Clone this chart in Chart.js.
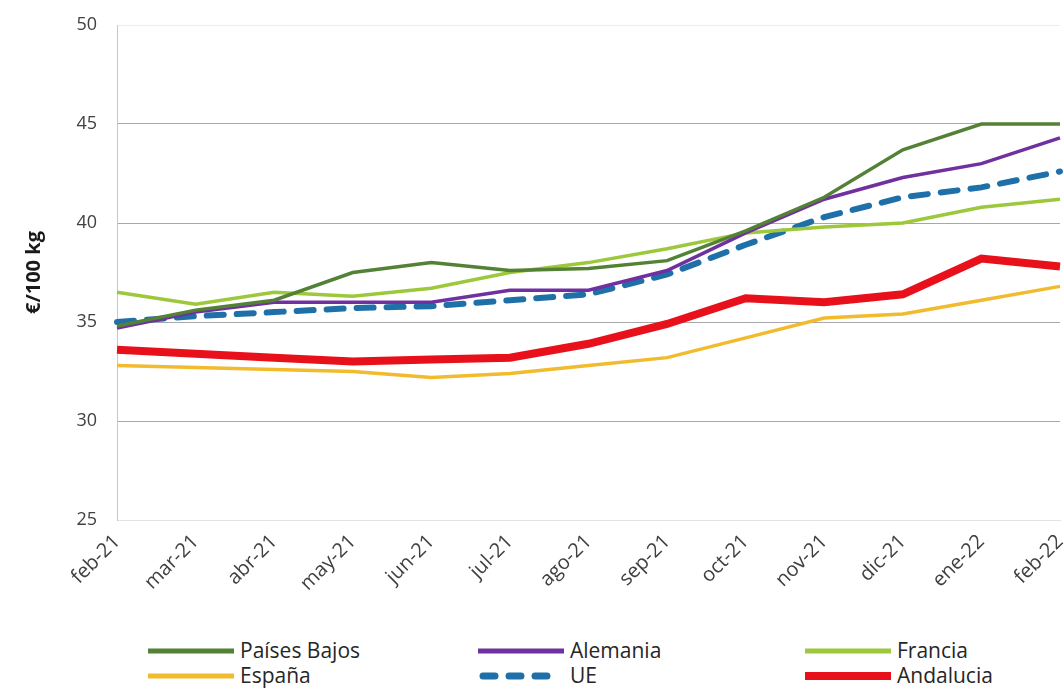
<!DOCTYPE html>
<html>
<head>
<meta charset="utf-8">
<script src="https://cdn.jsdelivr.net/npm/chart.js@4"></script>
<style>
  body { margin: 0; background: #fff; font-family: 'Open Sans', sans-serif; }
  #wrap { position: relative; width: 1064px; height: 692px; }
  #chart { position: absolute; left: 0; top: 0; }
  #legend { position: absolute; left: 0; top: 638px; width: 1064px; }
  .item { position: absolute; display: flex; align-items: center; font-size: 21px; color: #262626; line-height: 25px; }
  .item svg { margin-right: 6px; }
</style>
</head>
<body>
<div id="wrap">
  <canvas id="chart" width="1064" height="635"></canvas>
  <div id="legend"></div>
</div>
<script>
const months = ['feb-21', 'mar-21', 'abr-21', 'may-21', 'jun-21', 'jul-21', 'ago-21',
  'sep-21', 'oct-21', 'nov-21', 'dic-21', 'ene-22', 'feb-22'];

const paisesBajos = [34.8, 35.6, 36.1, 37.5, 38.0, 37.6, 37.7, 38.1, 39.6, 41.3, 43.7, 45.0, 45.0];
const alemania    = [34.7, 35.5, 36.0, 36.0, 36.0, 36.6, 36.6, 37.6, 39.5, 41.2, 42.3, 43.0, 44.3];
const francia     = [36.5, 35.9, 36.5, 36.3, 36.7, 37.5, 38.0, 38.7, 39.5, 39.8, 40.0, 40.8, 41.2];
const espana      = [32.8, 32.7, 32.6, 32.5, 32.2, 32.4, 32.8, 33.2, 34.2, 35.2, 35.4, 36.1, 36.8];
const ue          = [35.0, 35.3, 35.5, 35.7, 35.8, 36.1, 36.4, 37.4, 38.9, 40.3, 41.3, 41.8, 42.6];
const andalucia   = [33.6, 33.4, 33.2, 33.0, 33.1, 33.2, 33.9, 34.9, 36.2, 36.0, 36.4, 38.2, 37.8];

const yTicks = [25, 30, 35, 40, 45, 50];

const series = [
  { label: 'Países Bajos', data: paisesBajos, color: '#538135', width: 3.5, col: 0, row: 0 },
  { label: 'Alemania', data: alemania, color: '#7030a0', width: 3.5, col: 1, row: 0 },
  { label: 'Francia', data: francia, color: '#9dc83b', width: 3.5, col: 2, row: 0 },
  { label: 'España', data: espana, color: '#f2bb2e', width: 3.5, col: 0, row: 1 },
  { label: 'UE', data: ue, color: '#1f70a8', width: 6, dash: [17, 13], col: 1, row: 1 },
  { label: 'Andalucia', data: andalucia, color: '#e8111b', width: 8, col: 2, row: 1 }
];

const ctx = document.getElementById('chart').getContext('2d');

new Chart(ctx, {
  type: 'line',
  data: {
    labels: months,
    datasets: series.map(s => ({
      label: s.label,
      data: s.data,
      borderColor: s.color,
      backgroundColor: s.color,
      borderWidth: s.width,
      borderDash: s.dash || [],
      borderCapStyle: s.dash ? 'round' : 'butt',
      pointRadius: 0,
      tension: 0,
      fill: false
    }))
  },
  options: {
    responsive: false,
    animation: false,
    layout: { padding: { top: 25, right: 4, left: 0, bottom: 0 } },
    plugins: {
      legend: { display: false },
      tooltip: { enabled: false }
    },
    scales: {
      x: {
        offset: false,
        grid: { display: false, drawTicks: false },
        border: { color: '#e2e2e2' },
        ticks: {
          color: '#404040',
          font: { family: 'Open Sans', size: 20 },
          minRotation: 45,
          maxRotation: 45,
          padding: 10,
          autoSkip: false
        },
        afterFit: scale => {
          scale.height = 115;
          scale.paddingRight = 0;
          scale.paddingLeft = 0;
        }
      },
      y: {
        min: 25,
        max: 50,
        afterBuildTicks: scale => { scale.ticks = yTicks.map(v => ({ value: v })); },
        grid: {
          drawTicks: false,
          color: c => (c.tick && (c.tick.value === 50 || c.tick.value === 25)) ? '#ececec' : '#a8a8a8'
        },
        border: { color: '#c8c8c8' },
        ticks: {
          color: '#404040',
          font: { family: 'Open Sans', size: 18 },
          padding: 20
        },
        title: {
          display: true,
          text: '€/100 kg',
          color: '#1a1a1a',
          font: { family: 'Open Sans', size: 20, weight: 'bold' },
          padding: { top: 22 }
        },
        afterFit: scale => {
          scale.width = 117;
          scale.paddingTop = 0;
          scale.paddingBottom = 0;
        }
      }
    }
  }
});

// legend in three columns, two rows
const colX = [148, 478, 805];
const legend = document.getElementById('legend');
series.forEach(s => {
  const item = document.createElement('div');
  item.className = 'item';
  item.style.left = colX[s.col] + 'px';
  item.style.top = (s.row * 25) + 'px';
  const dash = s.dash ? 'stroke-dasharray="12 14" stroke-linecap="round"' : '';
  const w = s.dash ? 7 : (s.width >= 8 ? 8 : 5);
  item.innerHTML = '<svg width="86" height="10"><line x1="' + (s.dash ? 5 : 0) + '" y1="5" x2="' +
    (s.dash ? 81 : 86) + '" y2="5" stroke="' + s.color + '" stroke-width="' + w + '" ' + dash + '/></svg>';
  const span = document.createElement('span');
  span.textContent = s.label;
  item.appendChild(span);
  legend.appendChild(item);
});
</script>
</body>
</html>
